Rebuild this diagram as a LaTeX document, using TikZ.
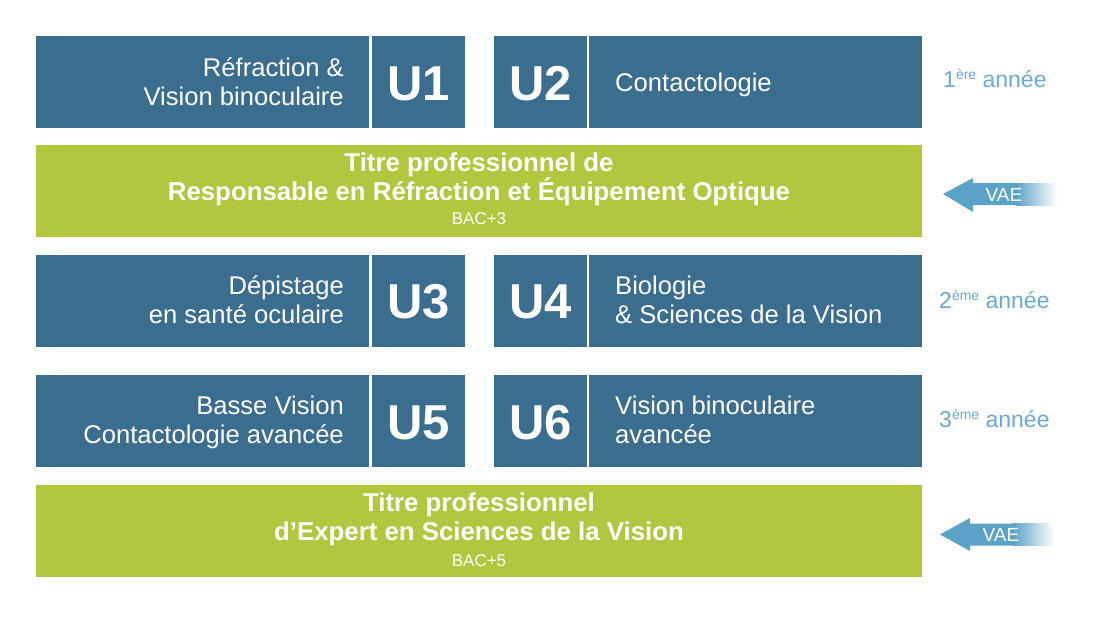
\documentclass[tikz,border=0pt]{standalone}
\usepackage{fontspec}
\setmainfont{Liberation Sans}
\definecolor{ublue}{HTML}{3A6D8E}
\definecolor{ugreen}{HTML}{B2C640}
\definecolor{ytext}{HTML}{6AAACE}
\definecolor{vaeblue}{HTML}{5BA2C7}
\newcommand{\yrsup}[1]{\raisebox{8pt}{\fontsize{14}{14}\selectfont #1}}
\begin{document}
\begin{tikzpicture}[x=1pt,y=-1pt,
  box/.style={draw=none,inner sep=0pt,outer sep=0pt,minimum height=92pt},
  bluebox/.style={box,fill=ublue},
  greenbox/.style={box,fill=ugreen,minimum width=886pt},
  ltxt/.style={inner sep=0pt,text=white,font=\fontsize{25.6}{29}\selectfont},
  utxt/.style={inner sep=0pt,text=white,font=\fontsize{49}{56}\selectfont\bfseries},
  gtxt/.style={inner sep=0pt,text=white,font=\fontsize{25.8}{29}\selectfont\bfseries},
  btxt/.style={inner sep=0pt,text=white,font=\fontsize{17}{20}\selectfont},
  ytxt/.style={inner sep=0pt,text=ytext,font=\fontsize{23}{27}\selectfont,anchor=base west},
  vtxt/.style={inner sep=0pt,text=white,font=\fontsize{19}{22}\selectfont}
]
\useasboundingbox (0,0) rectangle (1100,616);

% ---- Row 1
\node[bluebox,minimum width=333pt] (b1l) at (202.5,82) {};
\node[bluebox,minimum width=93pt] (u1) at (418.5,82) {};
\node[bluebox,minimum width=93pt] (u2) at (540.5,82) {};
\node[bluebox,minimum width=333pt] (b2r) at (755.5,82) {};
\node[ltxt,anchor=base east] (t1a) at (344,76) {Réfraction \&};
\node[ltxt,anchor=base east] (t1b) at (344,105) {Vision binoculaire};
\node[utxt,anchor=base] (u1t) at (418.5,100) {U1};
\node[utxt,anchor=base] (u2t) at (540.5,100) {U2};
\node[ltxt,anchor=base west] (t2a) at (615,91) {Contactologie};
\node[ytxt] (y1) at (943,87) {1\yrsup{ère} année};

% ---- Green 1
\node[greenbox] (g1) at (479,191) {};
\node[gtxt,anchor=base] (g1a) at (479,171) {Titre professionnel de};
\node[gtxt,anchor=base] (g1b) at (479,200.5) {Responsable en Réfraction et Équipement Optique};
\node[btxt,anchor=base] (g1c) at (479,224.5) {BAC+3};

% ---- Row 2
\node[bluebox,minimum width=333pt] (b3l) at (202.5,300.5) {};
\node[bluebox,minimum width=93pt] (u3) at (418.5,300.5) {};
\node[bluebox,minimum width=93pt] (u4) at (540.5,300.5) {};
\node[bluebox,minimum width=333pt] (b4r) at (755.5,300.5) {};
\node[ltxt,anchor=base east] (t3a) at (344,294) {Dépistage};
\node[ltxt,anchor=base east] (t3b) at (344,323) {en santé oculaire};
\node[utxt,anchor=base] (u3t) at (418.5,318.5) {U3};
\node[utxt,anchor=base] (u4t) at (540.5,318.5) {U4};
\node[ltxt,anchor=base west] (t4a) at (615,294) {Biologie};
\node[ltxt,anchor=base west] (t4b) at (615,323) {\& Sciences de la Vision};
\node[ytxt] (y2) at (939,308) {2\yrsup{ème} année};

% ---- Row 3
\node[bluebox,minimum width=333pt] (b5l) at (202.5,421) {};
\node[bluebox,minimum width=93pt] (u5) at (418.5,421) {};
\node[bluebox,minimum width=93pt] (u6) at (540.5,421) {};
\node[bluebox,minimum width=333pt] (b6r) at (755.5,421) {};
\node[ltxt,anchor=base east] (t5a) at (344,414.5) {Basse Vision};
\node[ltxt,anchor=base east] (t5b) at (344,443.5) {Contactologie avancée};
\node[utxt,anchor=base] (u5t) at (418.5,439) {U5};
\node[utxt,anchor=base] (u6t) at (540.5,439) {U6};
\node[ltxt,anchor=base west] (t6a) at (615,414.5) {Vision binoculaire};
\node[ltxt,anchor=base west] (t6b) at (615,443.5) {avancée};
\node[ytxt] (y3) at (939,427) {3\yrsup{ème} année};

% ---- Green 2
\node[greenbox] (g2) at (479,531) {};
\node[gtxt,anchor=base] (g2a) at (479,511) {Titre professionnel};
\node[gtxt,anchor=base] (g2b) at (479,540.5) {d’Expert en Sciences de la Vision};
\node[btxt,anchor=base] (g2c) at (479,566) {BAC+5};

% ---- VAE arrows
\fill[vaeblue] (943,194) -- (973,178) -- (973,183) -- (1016,183) -- (1016,205) -- (973,205) -- (973,212) -- cycle;
\shade[left color=vaeblue,right color=white] (1015.5,183) rectangle (1057,205);
\node[vtxt] (v1) at (1004,194.5) {VAE};

\fill[vaeblue] (940,534.5) -- (970,518) -- (970,523.5) -- (1013,523.5) -- (1013,545.5) -- (970,545.5) -- (970,551) -- cycle;
\shade[left color=vaeblue,right color=white] (1012.5,523.5) rectangle (1054,545.5);
\node[vtxt] (v2) at (1001,535) {VAE};
\end{tikzpicture}
\end{document}
